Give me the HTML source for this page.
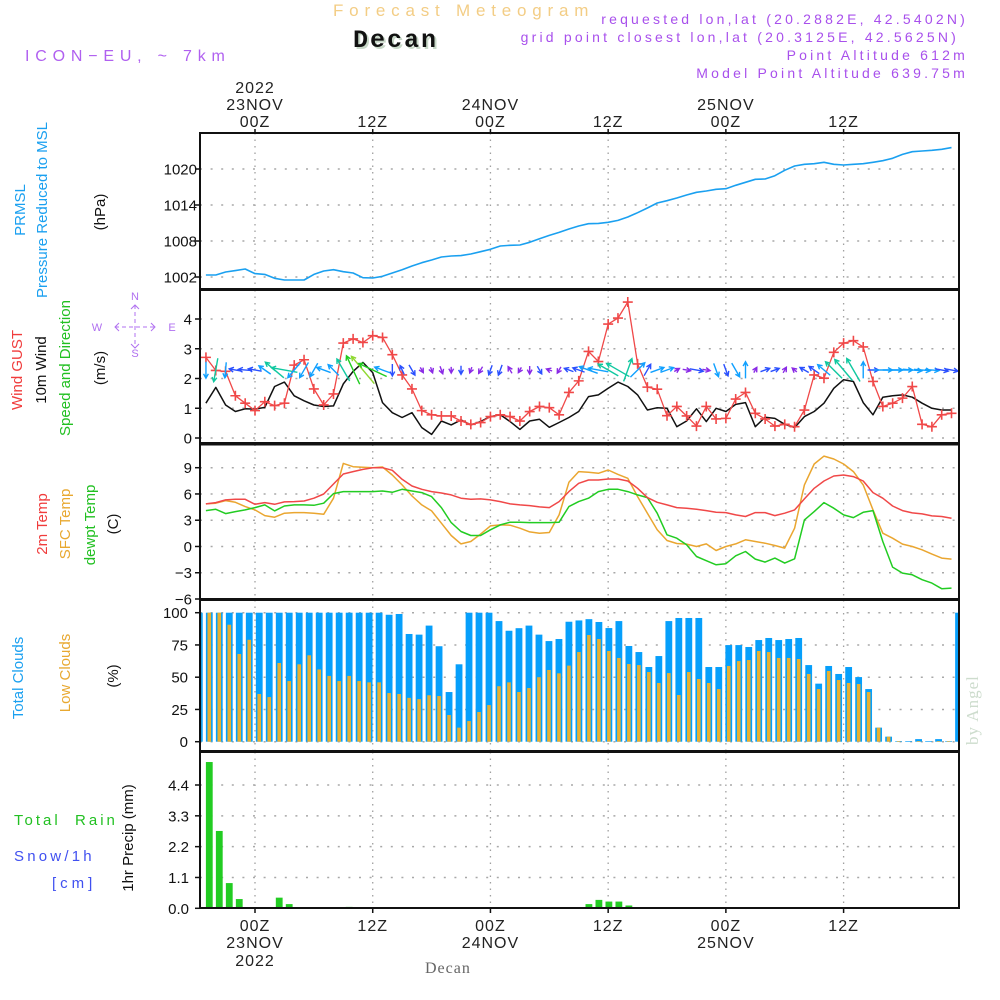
<!DOCTYPE html>
<html><head><meta charset="utf-8"><title>Forecast Meteogram Decan</title>
<style>
html,body{margin:0;padding:0;background:#fff;}
svg{display:block;font-family:"Liberation Sans",sans-serif;}
</style></head>
<body>
<svg id="chart" xmlns="http://www.w3.org/2000/svg" width="1000" height="1000" viewBox="0 0 1000 1000">
<rect x="0" y="0" width="1000" height="1000" fill="#fff"/>
<!-- titles -->
<text x="333" y="16" font-size="17" fill="#f3cd85" letter-spacing="5.8">Forecast Meteogram</text>
<text x="355" y="49" font-size="25" font-weight="bold" font-family="Liberation Mono, monospace" fill="#c8d8c8" letter-spacing="2">Decan</text>
<text x="353" y="47" font-size="25" font-weight="bold" font-family="Liberation Mono, monospace" fill="#111" letter-spacing="2">Decan</text>
<text x="25" y="61" font-size="16" fill="#b060f0" letter-spacing="5.8">ICON−EU, ~ 7km</text>
<g font-size="14" fill="#a850ec" text-anchor="end" letter-spacing="3.2">
<text x="968" y="24">requested lon,lat (20.2882E, 42.5402N)</text>
<text x="959" y="42">grid point closest lon,lat (20.3125E, 42.5625N)</text>
<text x="968" y="60">Point Altitude 612m</text>
<text x="968" y="78">Model Point Altitude 639.75m</text>
</g>
<text x="978" y="745" font-size="17" font-family="Liberation Serif, serif" fill="#cddccd" transform="rotate(-90 978 745)" letter-spacing="1">by Angel</text>
<text x="425" y="973" font-size="16" font-family="Liberation Serif, serif" fill="#666" letter-spacing="1">Decan</text>

<!-- left labels -->
<g font-size="15">
<text transform="translate(25 210) rotate(-90)" text-anchor="middle" fill="#1aa0f0">PRMSL</text>
<text transform="translate(47 210) rotate(-90)" text-anchor="middle" fill="#1aa0f0">Pressure Reduced to MSL</text>
<text transform="translate(105 212) rotate(-90)" text-anchor="middle" fill="#111">(hPa)</text>
<text transform="translate(22 370) rotate(-90)" text-anchor="middle" fill="#f03c3c">Wind GUST</text>
<text transform="translate(46 370) rotate(-90)" text-anchor="middle" fill="#111">10m Wind</text>
<text transform="translate(70 368) rotate(-90)" text-anchor="middle" fill="#22c022">Speed and Direction</text>
<text transform="translate(105 368) rotate(-90)" text-anchor="middle" fill="#111">(m/s)</text>
<text transform="translate(47 524) rotate(-90)" text-anchor="middle" fill="#f03c3c">2m Temp</text>
<text transform="translate(70 524) rotate(-90)" text-anchor="middle" fill="#e8a830">SFC Temp</text>
<text transform="translate(95 525) rotate(-90)" text-anchor="middle" fill="#22c022">dewpt Temp</text>
<text transform="translate(118 524) rotate(-90)" text-anchor="middle" fill="#111">(C)</text>
<text transform="translate(23 678) rotate(-90)" text-anchor="middle" fill="#1aa0f0">Total Clouds</text>
<text transform="translate(70 673) rotate(-90)" text-anchor="middle" fill="#e8a830">Low Clouds</text>
<text transform="translate(118 676) rotate(-90)" text-anchor="middle" fill="#111">(%)</text>
<text x="14" y="825" fill="#22c022" letter-spacing="3" style="white-space:pre">Total  Rain</text>
<text x="14" y="861" fill="#4050f0" letter-spacing="3.2">Snow/1h</text>
<text x="52" y="888" fill="#4050f0" letter-spacing="4">[cm]</text>
<text transform="translate(133 838) rotate(-90)" text-anchor="middle" fill="#111">1hr Precip (mm)</text>
</g>
<!-- compass -->
<g font-size="11" fill="#b070f0" stroke="none">
<text x="135" y="300" text-anchor="middle">N</text>
<text x="135" y="357" text-anchor="middle">S</text>
<text x="97" y="331" text-anchor="middle">W</text>
<text x="172" y="331" text-anchor="middle">E</text>
<g stroke="#b070f0" stroke-width="1" fill="none">
<line x1="115" y1="327" x2="155" y2="327" stroke-dasharray="4 3"/>
<line x1="135" y1="305" x2="135" y2="348" stroke-dasharray="4 3"/>
<polyline points="119,323 115,327 119,331"/><polyline points="151,323 155,327 151,331"/>
<polyline points="131,309 135,305 139,309"/><polyline points="131,344 135,348 139,344"/>
</g></g>
<g id="grid"></g>
<g id="marks"></g>
<g id="frames"></g>
<g id="axes"></g>
</svg>
<script>
// ---------- data ----------
const pressure = [1002.33,1002.33,1002.83,1003.06,1003.33,1002.56,1002.44,1001.78,1001.5,1001.5,
1001.5,1002.44,1003.0,1003.22,1002.89,1002.67,1001.89,1001.83,1002.11,1002.67,
1003.22,1003.83,1004.39,1004.83,1005.33,1005.5,1005.56,1005.83,1006.22,1006.61,
1007.17,1007.28,1007.33,1007.78,1008.39,1008.94,1009.44,1010.0,1010.5,1010.89,
1010.94,1011.11,1011.44,1012.0,1012.72,1013.5,1014.33,1014.72,1015.17,1015.67,
1016.11,1016.33,1016.61,1016.72,1017.28,1017.78,1018.28,1018.33,1018.89,1019.78,
1020.5,1020.78,1020.89,1021.11,1020.78,1020.67,1020.78,1020.89,1021.11,1021.39,
1021.78,1022.44,1022.89,1023.0,1023.11,1023.28,1023.56];
const windGust = [2.71,2.27,2.24,1.42,1.17,0.92,1.22,1.09,1.17,2.45,
2.63,1.65,1.11,1.48,3.19,3.33,3.21,3.44,3.38,2.80,
2.12,1.65,0.92,0.78,0.74,0.74,0.57,0.46,0.52,0.72,
0.78,0.72,0.57,0.89,1.06,1.02,0.78,1.53,1.92,2.91,
2.57,3.83,4.03,4.57,2.49,1.71,1.64,0.75,1.06,0.74,
0.40,1.06,0.64,0.66,1.31,1.53,0.83,0.64,0.40,0.46,
0.38,0.94,2.12,2.01,2.88,3.19,3.27,3.06,1.90,1.06,
1.17,1.34,1.73,0.46,0.38,0.78,0.83];
const windSpeed = [1.17,1.70,1.11,0.89,0.98,0.97,1.03,1.73,1.88,1.42,
1.25,1.11,1.06,1.08,1.82,2.24,2.54,2.20,1.19,0.85,
0.69,0.85,0.35,0.12,0.57,0.44,0.61,0.44,0.55,0.72,
0.78,0.55,0.29,0.57,0.63,0.36,0.52,0.69,0.89,1.39,
1.45,1.67,1.88,1.73,1.45,0.94,1.02,1.00,0.38,0.57,
0.98,0.55,1.00,0.89,1.13,1.19,0.38,0.70,0.66,0.46,
0.35,0.72,0.89,1.17,1.67,1.96,1.90,1.19,0.78,1.37,
1.42,1.45,1.37,1.17,1.00,0.94,0.94];
const windDir = [-90,-100,-95,170,175,170,145,140,170,-130,
-120,-120,160,135,120,115,130,155,160,-90,
115,-60,-60,-70,-70,-90,-90,-110,-120,-110,
-110,120,-120,-90,-60,160,-120,160,160,160,
170,150,150,70,45,60,20,20,30,-10,
-10,-10,-70,-70,-60,90,60,20,20,60,
140,150,145,140,135,130,120,90,0,0,
0,0,-5,-5,-5,-10,-10];
const temp2m = [4.86,5.01,5.32,5.39,5.39,4.82,5.01,4.82,5.09,5.13,
5.20,5.51,6.00,7.14,8.28,8.55,8.81,9.00,9.00,8.70,
7.67,6.91,6.53,6.27,6.11,5.89,5.51,5.39,5.43,5.32,
5.13,4.86,4.75,4.67,4.52,4.44,5.13,6.27,7.22,7.60,
7.60,7.71,7.71,7.48,6.65,5.58,5.05,4.75,4.44,4.37,
4.25,4.10,3.91,3.87,3.61,3.42,3.87,3.87,3.53,3.80,
4.18,5.43,6.65,7.48,8.05,8.17,7.98,7.48,6.15,5.51,
4.63,4.10,3.84,3.72,3.49,3.42,3.23];
const tempSfc = [4.86,4.94,5.24,5.05,4.56,4.18,3.53,3.34,3.80,3.87,
3.87,3.80,3.68,5.51,9.49,9.11,9.04,9.00,9.08,8.17,
7.03,5.77,4.75,4.06,2.66,1.25,0.30,0.57,1.41,2.35,
2.47,2.43,2.09,1.67,1.52,1.60,3.61,7.33,8.55,8.47,
8.36,8.74,8.24,7.79,5.70,3.80,1.90,0.68,0.34,0.27,
0.00,0.30,-0.46,0.00,0.30,0.76,0.57,0.38,0.11,-0.19,
2.09,7.03,9.42,10.33,9.99,9.42,8.55,7.03,4.18,1.52,
0.95,0.27,0.00,-0.38,-0.87,-1.33,-1.44];
const tempDew = [4.10,4.25,3.76,3.99,4.18,4.44,4.75,4.06,4.63,4.75,
4.75,4.71,4.94,6.04,6.27,6.27,6.27,6.27,6.34,6.19,
6.53,6.34,6.15,5.70,4.44,2.73,1.71,1.25,1.25,1.90,
2.47,2.77,2.77,2.73,2.73,2.73,2.77,4.56,5.13,5.51,
6.27,6.53,6.53,6.27,5.89,5.58,3.80,1.33,0.95,0.19,
-1.14,-1.63,-2.09,-1.97,-1.06,-0.57,-1.44,-1.79,-1.33,-1.90,
-1.41,3.04,3.99,5.01,4.37,3.61,3.30,3.91,4.10,0.57,
-2.35,-3.04,-3.23,-3.80,-4.18,-4.82,-4.75];
const totalClouds = [100,100,100,100,100,100,100,100,100,100,
100,100,100,100,100,100,100,100,100,98.4,
99,83.5,83,90,74,38.5,60,100,100,100,
93.5,86,88,90,83,78,79.6,93,94,95,
92.8,88.1,93.5,74.2,69.5,57.9,66.4,93.5,95.9,95.9,
95.9,57.9,57.9,74.9,74.9,73.4,78.8,80.4,78.8,79.6,
80.4,59.4,45,58.7,52.5,57.9,50.1,40.8,10.9,3.9,
0.5,0.5,2,0.5,2,0.5,100];
const lowClouds = [100,100,100,90.7,68,79,37,34.6,61,47,
60,67,56,51,47,51,47,46,46,37.7,
37,34,33,36,35.4,20.7,10.9,16,23,28.4,
43,46,38.5,41.6,50,55.6,53,59,69.5,82.7,
79.6,70.3,64.9,60.2,59.4,54,45.5,53.2,36.2,54,
48.6,45.5,40.8,58.7,62.5,63.3,70.3,69.5,64.9,64.9,
64.1,52.5,40.8,54.8,47.8,45.5,44.7,38.5,10.9,3.9,
0.5,0,0.5,0,0.5,0.5,0];
const precip = [0,5.22,2.76,0.90,0.33,0,0,0.02,0.38,0.15,
0,0,0,0,0.01,0.05,0,0,0,0,
0,0,0,0,0,0,0,0,0,0,
0,0,0,0,0,0,0,0,0,0.15,
0.30,0.24,0.24,0.10,0,0,0,0,0,0,
0,0,0,0,0,0,0,0,0,0,
0,0,0,0,0,0,0,0,0,0,
0,0,0,0,0,0,0];
const tickHours = [0,12,24,36,48,60];
const tickHourLabels = ["00Z","12Z","00Z","12Z","00Z","12Z"];
const tickDayLabels = ["23NOV","","24NOV","","25NOV",""];
const pressureTicks = [1002,1008,1014,1020];
const windTicks = [0,1,2,3,4];
const tempTicks = [-6,-3,0,3,6,9];
const cloudTicks = [0,25,50,75,100];
const precipTicks = [0,1.1,2.2,3.3,4.4];
const precipTickLabels = ["0.0","1.1","2.2","3.3","4.4"];

// ---------- scales ----------
const NS="http://www.w3.org/2000/svg";
const X0=200, X1=959;
const xHour = h => 255 + h*9.81;
const xLine = k => xHour(k-5);
const xBar = i => 199.3 + 9.99*i;
const lin = (d0,d1,r0,r1) => v => r0 + (v-d0)*(r1-r0)/(d1-d0);
const yP = lin(1002,1020,277,169);
const yW = lin(0,4,438,319);
const yT = lin(-6,9,599,467.7);
const yC = lin(0,100,741.7,612.7);
const yR = lin(0,4.4,908.3,785);
const panels = [
 {name:'pressure-panel',top:133,bot:289},
 {name:'wind-panel',top:290,bot:443},
 {name:'temperature-panel',top:444.5,bot:599},
 {name:'cloud-panel',top:600,bot:751},
 {name:'precip-panel',top:752,bot:908}];
function el(tag,attrs,parent){const e=document.createElementNS(NS,tag);for(const k in attrs)e.setAttribute(k,attrs[k]);parent.appendChild(e);return e;}
const grid=document.getElementById('grid'), marks=document.getElementById('marks'), frames=document.getElementById('frames'), axes=document.getElementById('axes');

panels.forEach(p=>{
  tickHours.forEach(h=>{
    const l=el('line',{x1:xHour(h),x2:xHour(h),y1:p.top,y2:p.bot,stroke:'#a0a0a0','stroke-width':1.3,'stroke-dasharray':'1.5 5'},grid);
    
    
  });
});
function hgrid(ticks,ys){ticks.forEach(t=>{const y=ys(t);
  const l=el('line',{x1:X0,x2:X1,y1:y,y2:y,stroke:'#a8a8a8','stroke-width':1.5,'stroke-dasharray':'2 8.6'},grid);
  
  });}
hgrid(pressureTicks,yP);hgrid(windTicks,yW);hgrid(tempTicks,yT);hgrid(cloudTicks,yC);hgrid(precipTicks,yR);

function ylabels(ticks,labels,ys,xr,name){ticks.forEach((t,j)=>{const y=ys(t);
  const tx=el('text',{x:xr,y:y+5.5,'font-size':15,'text-anchor':'end',fill:'#111'},axes);
  tx.textContent=labels?labels[j]:String(t);
  
  
  const tk=el('line',{x1:X0-5,x2:X0,y1:y,y2:y,stroke:'#111','stroke-width':1.5},axes);
  
  });}
ylabels(pressureTicks,null,yP,197,'pressure-tick-label');
ylabels(windTicks,null,yW,192,'wind-tick-label');
ylabels(tempTicks,tempTicks.map(t=>t<0?'−'+(-t):String(t)),yT,192,'temp-tick-label');
ylabels(cloudTicks,null,yC,188,'cloud-tick-label');
ylabels(precipTicks,precipTickLabels,yR,189,'precip-tick-label');

tickHours.forEach((h,j)=>{const x=xHour(h);
  const t=el('text',{x:x,y:127,'font-size':16,'text-anchor':'middle',fill:'#222','letter-spacing':1},axes);
  t.textContent=tickHourLabels[j];
  
  
  const b=el('text',{x:x,y:931,'font-size':16,'text-anchor':'middle',fill:'#222','letter-spacing':1},axes);
  b.textContent=tickHourLabels[j];
  
  
  if(tickDayLabels[j]){
    const d=el('text',{x:x,y:110,'font-size':16,'text-anchor':'middle',fill:'#222','letter-spacing':1},axes);
    d.textContent=tickDayLabels[j];
    
    
    const d2=el('text',{x:x,y:948,'font-size':16,'text-anchor':'middle',fill:'#222','letter-spacing':1},axes);
    d2.textContent=tickDayLabels[j];
    
    
  }
  if(j===0){
    const y1=el('text',{x:x,y:93,'font-size':16,'text-anchor':'middle',fill:'#222','letter-spacing':1},axes);
    y1.textContent='2022';
    
    
    const y2=el('text',{x:x,y:966,'font-size':16,'text-anchor':'middle',fill:'#222','letter-spacing':1},axes);
    y2.textContent='2022';
    
    
  }
  const tk=el('line',{x1:x,x2:x,y1:129,y2:133,stroke:'#111','stroke-width':1.5},axes);
  
  
  const tk2=el('line',{x1:x,x2:x,y1:908,y2:913,stroke:'#111','stroke-width':1.5},axes);
  
  
});

function line(vals,ys,color,name,w){
  const pts=vals.map((v,k)=>xLine(k).toFixed(1)+','+ys(v).toFixed(1)).join(' ');
  const p=el('polyline',{points:pts,fill:'none',stroke:color,'stroke-width':w||1.5,'stroke-linejoin':'round'},marks);
  
  
  return p;
}
const defs=el('defs',{},document.getElementById('chart'));
const cp=el('clipPath',{id:'plotclip'},defs);
el('rect',{x:X0,y:133,width:X1-X0,height:775},cp);
marks.setAttribute('clip-path','url(#plotclip)');

line(pressure,yP,'#1aa0f0','pressure-line',1.6);
line(windSpeed,yW,'#111','wind-speed-line',1.5);
line(windGust,yW,'#f04848','wind-gust-line',1.3);
windGust.forEach((v,k)=>{const x=xLine(k),y=yW(v);
  const m=el('path',{d:`M${x-5},${y}h10M${x},${y-5}v10`,stroke:'#f04848','stroke-width':1.6},marks);
  
  });
function arrowColor(s){return s<0.6?'#8a2ae6':s<1.0?'#2a50ff':s<1.5?'#10a0ff':s<2.0?'#10c8a0':s<2.3?'#20cc20':'#90d830';}
windSpeed.forEach((s,k)=>{
  const a=windDir[k]*Math.PI/180, L=Math.max(6,14*s);
  const cx=xLine(k), cy=370;
  const dx=Math.cos(a)*L/2, dy=-Math.sin(a)*L/2;
  const hx=cx+dx, hy=cy+dy, h=5;
  const b1=a+Math.PI-0.5, b2=a+Math.PI+0.5;
  const d=`M${cx-dx},${cy-dy}L${hx},${hy}M${hx+Math.cos(b1)*h},${hy-Math.sin(b1)*h}L${hx},${hy}L${hx+Math.cos(b2)*h},${hy-Math.sin(b2)*h}`;
  const p=el('path',{d:d,fill:'none',stroke:arrowColor(s),'stroke-width':1.4},marks);
  
  
});
line(tempSfc,yT,'#eaa630','sfc-temp-line',1.5);
line(tempDew,yT,'#22cc22','dewpoint-line',1.5);
line(temp2m,yT,'#f04848','t2m-line',1.5);
totalClouds.forEach((v,i)=>{const x=xBar(i);
  const r=el('rect',{x:x-3.4,y:yC(v),width:6.8,height:Math.max(0,yC(0)-yC(v)),fill:'#069ffb'},marks);
  
  });
lowClouds.forEach((v,i)=>{const x=xBar(i);
  const r=el('rect',{x:x-1.8,y:yC(v),width:3.6,height:Math.max(0,yC(0)-yC(v)),fill:'#e8b030'},marks);
  
  });
precip.forEach((v,i)=>{if(v<=0)return;const x=xBar(i);
  const r=el('rect',{x:x-3.4,y:yR(v),width:6.8,height:yR(0)-yR(v),fill:'#22cc22'},marks);
  
  });
panels.forEach(p=>{
  const r=el('rect',{x:X0,y:p.top,width:X1-X0,height:p.bot-p.top,fill:'none',stroke:'#111','stroke-width':2},frames);
  
  
});
</script>
</body></html>
